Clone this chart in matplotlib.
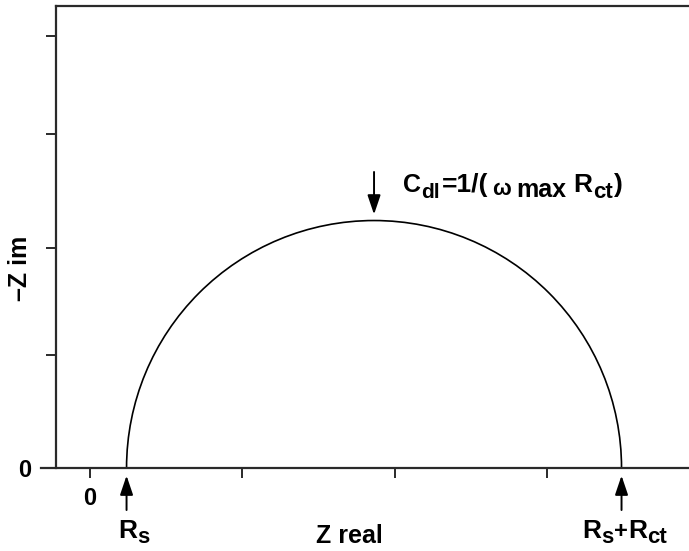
import matplotlib
matplotlib.use("Agg")
import matplotlib.pyplot as plt
import matplotlib.transforms as mtransforms
from matplotlib.patches import Arc

# Equivalent-circuit parameters (arbitrary impedance units)
Rs = 0.24          # solution resistance
Rct = 3.25         # charge-transfer resistance

# Axis ticks
x_ticks = [0, 1, 2, 3]
x_tick_labels = ["0", "", "", ""]
y_ticks = [0, 0.742, 1.445, 2.193, 2.837]
y_tick_labels = ["0", "", "", "", ""]

x_limits = (-0.2265, 3.933)
y_limits = (0, 3.037)

FONT = "Liberation Sans"
plt.rcParams["font.family"] = [FONT, "DejaVu Sans"]
plt.rcParams["font.weight"] = "bold"

fig = plt.figure(figsize=(6.89, 5.51), dpi=100)
ax = fig.add_axes([55.5 / 689, (551 - 468) / 551, (689 - 55.5) / 689, (468 - 5.5) / 551])

spine_color = "#2a2a2a"
ax.set_xlim(*x_limits)
ax.set_ylim(*y_limits)
ax.spines["right"].set_visible(False)
ax.spines["bottom"].set_visible(False)
for side in ("left", "top"):
    ax.spines[side].set_color(spine_color)
    ax.spines[side].set_linewidth(1.6)

# Real axis line, running a little past the imaginary axis
ax.axhline(0, xmin=-0.023, xmax=1.0, color=spine_color, lw=1.6, clip_on=False)

ax.set_xticks(x_ticks)
ax.set_xticklabels(x_tick_labels, fontsize=17, fontweight="bold")
ax.set_yticks(y_ticks)
ax.set_yticklabels(y_tick_labels, fontsize=17, fontweight="bold")
ax.tick_params(axis="x", direction="out", length=7.5, width=1.4, color=spine_color, pad=6)
ax.tick_params(axis="y", direction="out", length=7.5, width=1.4, color=spine_color, pad=10)

# Nyquist semicircle of the Randles cell
arc = Arc((Rs + Rct / 2, 0), Rct, Rct, theta1=0, theta2=180, color="black", lw=1.2)
ax.add_patch(arc)

arrow_kw = dict(arrowstyle="-|>,head_length=0.65,head_width=0.22", color="black",
                lw=1.4, mutation_scale=18, shrinkA=0, shrinkB=0)

renderer = fig.canvas.get_renderer()


def segmented_label(x, y, pieces, ha="left"):
    """Draw a label built from (text, fontsize, baseline shift px, gap px) pieces."""
    texts, widths = [], []
    for s, size, dy, gap in pieces:
        t = ax.text(x, y, s, fontsize=size, fontweight="bold", ha="left",
                    va="baseline", clip_on=False)
        w = t.get_window_extent(renderer).width
        texts.append((t, dy, gap))
        widths.append(w)
    total = sum(widths) + sum(p[3] for p in pieces)
    start = -total / 2 if ha == "center" else 0.0
    cur = start
    for (t, dy, gap), w in zip(texts, widths):
        cur += gap
        t.set_transform(mtransforms.offset_copy(ax.transData, fig=fig, x=cur, y=dy,
                                                units="dots"))
        cur += w


# Rs and Rs+Rct markers under the real axis
ax.annotate("", xy=(Rs, -0.05), xytext=(Rs, -0.276), arrowprops=arrow_kw, annotation_clip=False)
ax.annotate("", xy=(Rs + Rct, -0.05), xytext=(Rs + Rct, -0.276), arrowprops=arrow_kw,
            annotation_clip=False)
segmented_label(Rs + 0.045, -0.46, [("R", 19, 0, 0), ("s", 16, -5, 0)], ha="center")
segmented_label(Rs + Rct + 0.02, -0.46,
                [("R", 19, 0, 0), ("s", 16, -5, 0), ("+", 17, 0, 0),
                 ("R", 19, 0, 0), ("ct", 16, -5, 0)], ha="center")

# Apex of the semicircle
apex_x = Rs + Rct / 2
ax.annotate("", xy=(apex_x, Rct / 2 + 0.04), xytext=(apex_x, 1.944), arrowprops=arrow_kw)
segmented_label(apex_x + 0.19, 1.81,
                [("C", 18, 0, 0), ("dl", 15, -6, 0), ("=1/(", 19, 0, 2),
                 ("\u03c9", 16, -3, 4), ("max", 18, -5, 6), ("R", 19, 0, 7),
                 ("ct", 16, -6, 0), (")", 19, 0, 2)])

ax.text(1.70, -0.49, "Z real", ha="center", va="baseline", fontsize=18,
        fontweight="bold", clip_on=False)
fig.text(20 / 689, 1 - 268 / 551, "\u2013Z im", rotation=90, ha="center", va="center",
         fontsize=18, fontweight="bold")

fig.savefig("out.png", dpi=100)
